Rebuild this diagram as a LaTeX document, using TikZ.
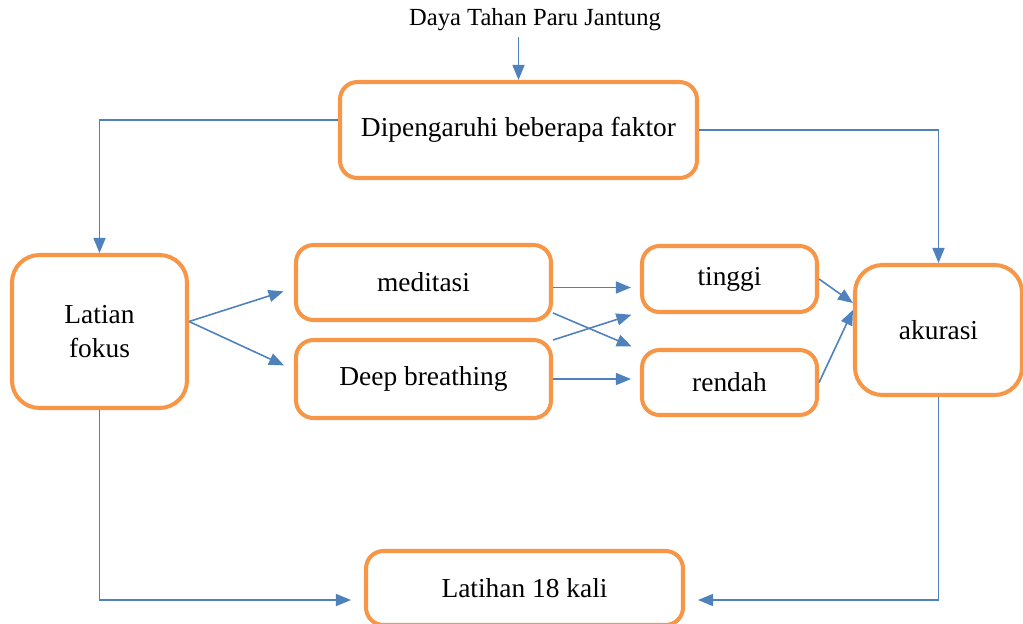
\documentclass[tikz,border=0pt]{standalone}
\usepackage{fontspec}
\setmainfont{Liberation Serif}
\usepackage{xcolor}
\usetikzlibrary{arrows.meta}
\definecolor{kotak}{HTML}{F79646}
\definecolor{panah}{HTML}{4F81BD}

\begin{document}
\begin{tikzpicture}[x=0.02cm,y=-0.02cm,
    box/.style={draw=kotak,line width=2.3pt,rounded corners=0.35cm,fill=white,
                align=center,font=\fontsize{15.6}{19}\selectfont},
    arr/.style={draw=panah,line width=0.9pt,-{Triangle[length=0.3cm,width=0.24cm]}}]
            \useasboundingbox (0,0) rectangle (1023,623);
            \node (dtp) at (535,20) {\fontsize{14}{17}\selectfont Daya Tahan Paru Jantung};
            \node (fak) [box,minimum width=357*0.02cm,minimum height=96*0.02cm] at (518.5,130) {Dipengaruhi beberapa faktor};
            \node (lat) [box,rounded corners=0.55cm,minimum width=175*0.02cm,minimum height=153*0.02cm] at (99.5,331.5) {Latian\\fokus};
            \node (med) [box,minimum width=255*0.02cm,minimum height=75*0.02cm] at (423.5,282.5) {meditasi};
            \node (dbr) [box,minimum width=255*0.02cm,minimum height=78*0.02cm] at (423.5,379) {Deep breathing};
            \node (tin) [box,minimum width=175*0.02cm,minimum height=66*0.02cm] at (729.5,279) {tinggi};
            \node (ren) [box,minimum width=175*0.02cm,minimum height=65*0.02cm] at (729.5,382.5) {rendah};
            \node (aku) [box,rounded corners=0.55cm,minimum width=167*0.02cm,minimum height=130*0.02cm] at (938.5,330) {akurasi};
            \node (l18) [box,minimum width=317*0.02cm,minimum height=74*0.02cm] at (524.5,588) {Latihan 18 kali};
            % dari atas
            \draw[arr] (dtp.south -| fak) -- (fak.north);
            \draw[arr] ([yshift=0.2cm]fak.west) -| (lat.north);
            \draw[arr] (fak.east) -| (aku.north);
            % latian ke metode
            \draw[arr,shorten >=0.22cm] ([yshift=0.2cm]lat.east) -- ([yshift=-0.11cm]med.west);
            \draw[arr,shorten >=0.22cm] ([yshift=0.2cm]lat.east) -- ([yshift=0.18cm]dbr.west);
            % metode ke hasil
            \draw[arr,shorten >=0.18cm] ([yshift=-0.1cm]med.east) -- ([yshift=-0.1cm]med.east -| tin.west);
            \draw[arr,shorten >=0.18cm] ([yshift=-0.61cm]med.east) -- ([yshift=0.65cm]ren.west);
            \draw[arr,shorten >=0.18cm] ([yshift=0.78cm]dbr.east) -- ([yshift=-0.66cm]tin.west);
            \draw[arr,shorten >=0.18cm] (dbr.east) -- (dbr.east -| ren.west);
            \draw[arr] (tin.east) -- ([yshift=0.54cm]aku.west);
            \draw[arr] (ren.east) -- ([yshift=0.4cm]aku.west);
            % ke latihan
            \draw[arr,shorten >=0.26cm] (lat.south) |- ([yshift=-0.24cm]l18.west);
            \draw[arr,shorten >=0.26cm] (aku.south) |- ([yshift=-0.24cm]l18.east);
        \end{tikzpicture}
\end{document}
